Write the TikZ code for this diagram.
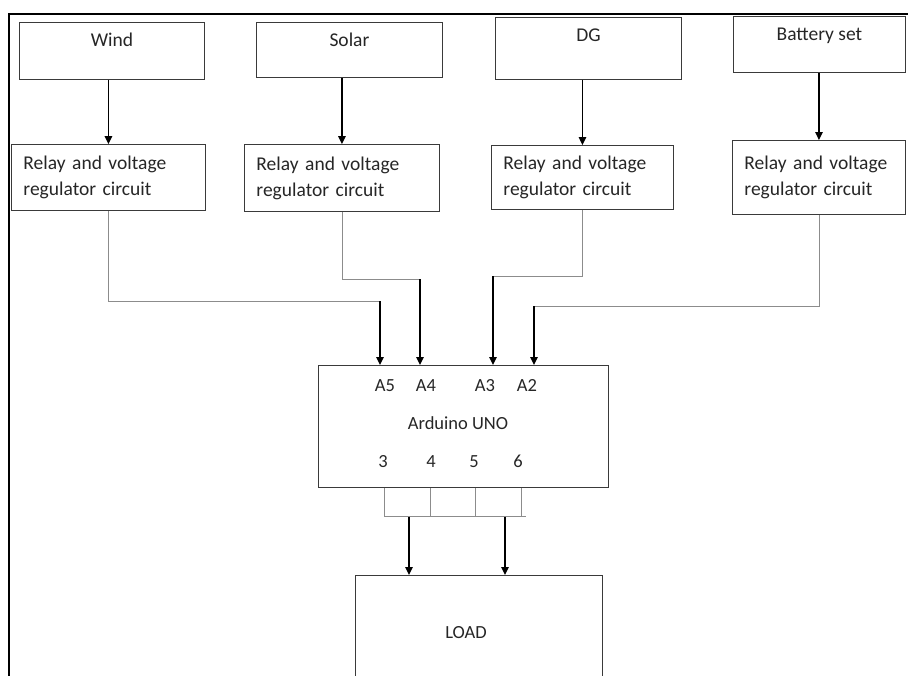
\documentclass[tikz,border=0pt]{standalone}
\usepackage{fontspec}
\setmainfont{Carlito}
\usetikzlibrary{arrows.meta, positioning, calc}
\definecolor{bxline}{HTML}{3A3A3A}
\definecolor{wiregray}{HTML}{8C8C8C}
\definecolor{txtdark}{HTML}{262626}

\begin{document}
\begin{tikzpicture}[
  x=1pt, y=-1pt,
  every node/.style={font=\fontsize{19.5}{26}\selectfont, text=txtdark},
  srcbox/.style={rectangle, draw=bxline, line width=0.9pt, anchor=north west, inner sep=0pt},
  srctext/.style={anchor=north, yshift=-10pt, inner sep=0pt, text height=14pt, text depth=4pt},
  relaybox/.style={rectangle, draw=bxline, line width=0.9pt, anchor=north west, align=left, inner xsep=12pt, inner ysep=0pt},
  unobox/.style={rectangle, draw=bxline, line width=0.9pt, anchor=north west, inner sep=0pt},
  pinlabel/.style={inner sep=0pt, anchor=base, font=\fontsize{18.5}{22}\selectfont},
  arr/.style={-{Triangle[length=8pt, width=7.5pt]}, line width=1.4pt, black},
  wire/.style={wiregray, line width=0.9pt},
]
\useasboundingbox (0,0) rectangle (908,675);
\clip (0,0) rectangle (908,675);

% Page frame
\draw[line width=2pt, black] (908,14) -- (9,14) -- (9,680);

% Sources
\node[srcbox, minimum width=185pt, minimum height=57pt, label={[srctext]north:Wind}] (wind) at (19,22) {};
\node[srcbox, minimum width=186pt, minimum height=55pt, label={[srctext]north:Solar}] (solar) at (256,22) {};
\node[srcbox, minimum width=186pt, minimum height=62pt, label={[srctext]north:DG}] (dg) at (495,17) {};
\node[srcbox, minimum width=172pt, minimum height=56pt, label={[srctext]north:Battery set}] (battery) at (733,16) {};

% Relay and regulator boxes
\node[relaybox, text width=170pt, minimum height=66pt] (relayA) at (11,144) {Relay and voltage\\regulator circuit};
\node[relaybox, text width=171pt, minimum height=67pt] (relayB) at (244,144) {Relay and voltage\\regulator circuit};
\node[relaybox, text width=158pt, minimum height=64pt] (relayC) at (491,145) {Relay and voltage\\regulator circuit};
\node[relaybox, text width=149pt, minimum height=74pt] (relayD) at (732,140) {Relay and voltage\\regulator circuit};

\draw[arr] (wind.south -| relayA.north) -- (relayA.north);
\draw[arr] (solar.south -| relayB.north) -- (relayB.north);
\draw[arr] (dg.south -| relayC.north) -- (relayC.north);
\draw[arr] (battery.south -| relayD.north) -- (relayD.north);

% Arduino
\node[unobox, minimum width=290pt, minimum height=122pt] (uno) at (318,365) {};
\node[pinlabel] (unotext) at ([shift={(140pt,-64pt)}]uno.north west) {Arduino UNO};
\node[pinlabel] (lA5) at ([shift={(67pt,-26pt)}]uno.north west) {A5};
\node[pinlabel] (lA4) at ([shift={(108pt,-26pt)}]uno.north west) {A4};
\node[pinlabel] (lA3) at ([shift={(167pt,-26pt)}]uno.north west) {A3};
\node[pinlabel] (lA2) at ([shift={(209pt,-26pt)}]uno.north west) {A2};
\node[pinlabel] (l3) at ([shift={(65pt,-102pt)}]uno.north west) {3};
\node[pinlabel] (l4) at ([shift={(113pt,-102pt)}]uno.north west) {4};
\node[pinlabel] (l5) at ([shift={(156pt,-102pt)}]uno.north west) {5};
\node[pinlabel] (l6) at ([shift={(200pt,-102pt)}]uno.north west) {6};

% Analog inputs
\coordinate (a5) at ([xshift=62pt]uno.north west);
\coordinate (a4) at ([xshift=102pt]uno.north west);
\coordinate (a3) at ([xshift=175pt]uno.north west);
\coordinate (a2) at ([xshift=216pt]uno.north west);
\coordinate (k5) at ([yshift=64pt]a5);
\coordinate (k4) at ([yshift=86pt]a4);
\coordinate (k3) at ([yshift=89pt]a3);
\coordinate (k2) at ([yshift=59pt]a2);

\draw[wire] (relayA.south) |- (k5);
\draw[wire] (relayB.south) |- (k4);
\draw[wire] (relayC.south) |- (k3);
\draw[wire] (relayD.south) |- (k2);
\draw[arr] (k5) -- (a5);
\draw[arr] (k4) -- (a4);
\draw[arr] (k3) -- (a3);
\draw[arr] (k2) -- (a2);

% Load
\node[unobox, minimum width=247pt, minimum height=116pt] (load) at (355,575) {};
\node[pinlabel] (loadtext) at ([shift={(111pt,-63pt)}]load.north west) {LOAD};

% Digital outputs
\coordinate (d3) at ([xshift=66pt]uno.south west);
\coordinate (d4) at ([xshift=112pt]uno.south west);
\coordinate (d5) at ([xshift=157pt]uno.south west);
\coordinate (d6) at ([xshift=203pt]uno.south west);
\coordinate (busL) at ([yshift=-29pt]d3);
\coordinate (busR) at ([shift={(5pt,-29pt)}]d6);
\foreach \p in {d3,d4,d5,d6}
  \draw[wire] (\p) -- (\p |- busL);
\draw[wire] (busL) -- (busR);
\coordinate (t1) at ([xshift=25pt]busL);
\coordinate (t2) at ([xshift=121pt]busL);
\draw[arr] (t1) -- (t1 |- load.north);
\draw[arr] (t2) -- (t2 |- load.north);

\end{tikzpicture}
\end{document}
